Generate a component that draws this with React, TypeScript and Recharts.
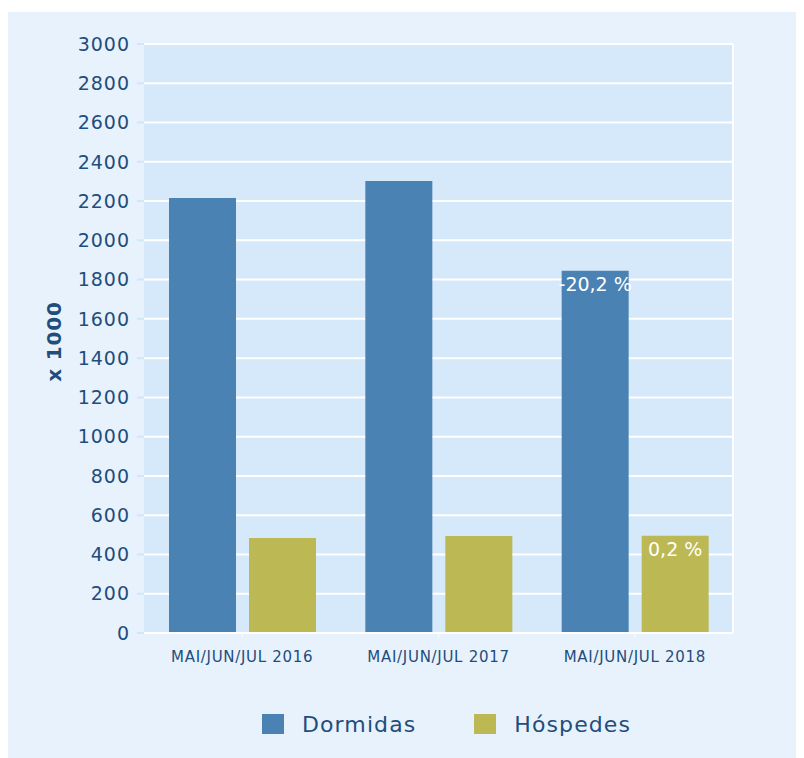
import { BarChart, Bar, XAxis, YAxis, CartesianGrid, Legend, LabelList } from 'recharts'

const periods = ['MAI/JUN/JUL 2016', 'MAI/JUN/JUL 2017', 'MAI/JUN/JUL 2018']
const dormidas = [2215, 2302, 1845]
const hospedes = [484, 494, 495]
const dormidasLabels = ['', '', '-20,2 %']
const hospedesLabels = ['', '', '0,2 %']
const yTicks = [0, 200, 400, 600, 800, 1000, 1200, 1400, 1600, 1800, 2000, 2200, 2400, 2600, 2800, 3000]

const BLUE = '#4a82b3'
const OLIVE = '#bcb853'
const TEXT = '#1f4d7c'
const FONT = '"DejaVu Sans", Verdana, sans-serif'

const data = periods.map((p, i) => ({
  period: p,
  dormidas: dormidas[i],
  hospedes: hospedes[i],
  dLabel: dormidasLabels[i],
  hLabel: hospedesLabels[i],
}))

const legendItems = [
  { name: 'Dormidas', color: BLUE },
  { name: 'Hóspedes', color: OLIVE },
]

function renderLegend() {
  return (
    <div style={{ height: 60, display: 'flex', alignItems: 'center', paddingLeft: 254, fontFamily: FONT }}>
      {legendItems.map((it, i) => (
        <div key={it.name} style={{ display: 'flex', alignItems: 'center', marginRight: i === 0 ? 58 : 0 }}>
          <div style={{ width: 22, height: 20, background: it.color }} />
          <span style={{ marginLeft: 18, fontSize: 22, color: TEXT, letterSpacing: 1.1 }}>{it.name}</span>
        </div>
      ))}
    </div>
  )
}

function YLabel(props: any) {
  const vb = props.viewBox
  const x = vb.x + 46
  const y = vb.y + vb.height / 2 + 3
  return (
    <text x={x} y={y} transform={`rotate(-90, ${x}, ${y})`} textAnchor="middle" dominantBaseline="central"
      fill={TEXT} fontSize={20} fontWeight="bold" fontFamily={FONT} letterSpacing={0.8}>x 1000</text>
  )
}

export default function App() {
  return (
    <div style={{ marginTop: 4, width: 788, height: 746, background: '#e8f2fc' }}>
      <BarChart width={788} height={746} data={data} barSize={67} barGap={13}
        margin={{ top: 32, right: 63, bottom: 4, left: 0 }}>
        <CartesianGrid fill="#d6e9fa" stroke="#ffffff" strokeWidth={2}
          verticalCoordinatesGenerator={(p: any) => [p.offset.left + p.offset.width]} />
        <XAxis dataKey="period" height={61} tickSize={4} tickMargin={14}
          axisLine={{ stroke: '#ffffff', strokeWidth: 2 }} tickLine={{ stroke: '#ffffff' }}
          tick={{ fill: TEXT, fontSize: 15, fontFamily: FONT, letterSpacing: 0.7 }} />
        <YAxis width={136} domain={[0, 3000]} ticks={yTicks} interval={0} axisLine={false}
          tickSize={7} tickMargin={7} tickLine={{ stroke: '#d2e6f8', strokeWidth: 2 }}
          tick={{ fill: TEXT, fontSize: 19, fontFamily: FONT, letterSpacing: 1 }}
          label={<YLabel />} />
        <Legend verticalAlign="bottom" content={renderLegend} wrapperStyle={{ left: 0, width: 788 }} />
        <Bar dataKey="dormidas" name="Dormidas" fill={BLUE} isAnimationActive={false}>
          <LabelList dataKey="dLabel" position="insideTop" offset={7} fill="#ffffff" fontSize={19} fontFamily={FONT} />
        </Bar>
        <Bar dataKey="hospedes" name="Hóspedes" fill={OLIVE} isAnimationActive={false}>
          <LabelList dataKey="hLabel" position="insideTop" offset={7} fill="#ffffff" fontSize={19} fontFamily={FONT} />
        </Bar>
      </BarChart>
    </div>
  )
}
